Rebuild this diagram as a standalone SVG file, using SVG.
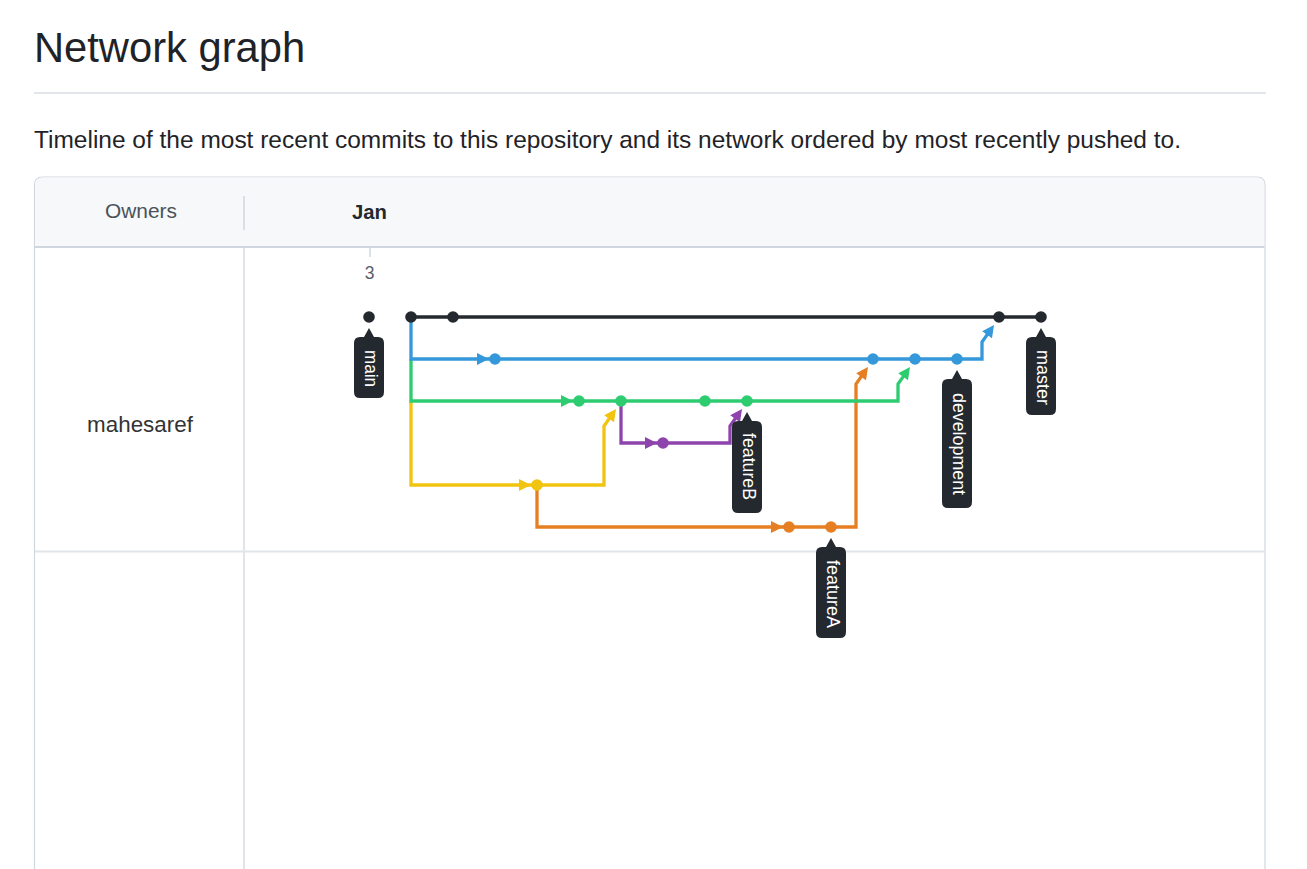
<svg xmlns="http://www.w3.org/2000/svg" xmlns:xlink="http://www.w3.org/1999/xlink" width="1307" height="869" viewBox="0 0 1307 869">
<style>
  .sans{font-family:"Liberation Sans",Arial,sans-serif}
  .ln{fill:none;stroke-width:3.3;stroke-linejoin:miter;stroke-linecap:butt}
  .k{stroke:#24292f}.b{stroke:#3498db}.g{stroke:#2ecc71}.p{stroke:#8e44ad}.y{stroke:#f1c40f}.o{stroke:#e67e22}
  .fk{fill:#24292f}.fb{fill:#3498db}.fg{fill:#2ecc71}.fp{fill:#8e44ad}.fy{fill:#f1c40f}.fo{fill:#e67e22}
  .tag{fill:#24292f}
  .tagt{fill:#ffffff;font-family:"Liberation Sans",Arial,sans-serif;font-size:17.5px}
</style>
<defs>
  <path id="ah" d="M0,0 L-12,-6 L-12,6 Z"/>
  <circle id="dot" r="5.8"/>
</defs>
<rect width="1307" height="869" fill="#ffffff"/>

<g id="header">
  <text class="sans" x="34" y="62" font-size="41.7" fill="#1f2328">Network graph</text>
  <line x1="34" y1="93" x2="1266" y2="93" stroke="#d8dee4" stroke-width="1.5"/>
  <text class="sans" x="34" y="148" font-size="24.4" fill="#1f2328" textLength="1147" lengthAdjust="spacingAndGlyphs">Timeline of the most recent commits to this repository and its network ordered by most recently pushed to.</text>
</g>

<g id="table">
  <path d="M34.5,900 V185 Q34.5,177 42.5,177 H1257 Q1265,177 1265,185 V900" fill="#ffffff" stroke="#d0d7de" stroke-width="1.2"/>
  <path d="M35.1,247 V185.5 Q35.1,177.6 43,177.6 H1256.5 Q1264.4,177.6 1264.4,185.5 V247 Z" fill="#f6f8fa"/>
  <line x1="35" y1="247" x2="1264.5" y2="247" stroke="#d0d7de" stroke-width="2"/>
  <line x1="244" y1="196" x2="244" y2="230" stroke="#d0d7de" stroke-width="1.5"/>
  <line x1="244" y1="248" x2="244" y2="869" stroke="#e1e4e8" stroke-width="2"/>
  <line x1="35" y1="551.5" x2="1264.5" y2="551.5" stroke="#e1e4e8" stroke-width="2"/>
  <line x1="370" y1="248" x2="370" y2="257" stroke="#d0d7de" stroke-width="1.5"/>
  <text class="sans" x="141" y="218" font-size="20.9" fill="#4b5259" text-anchor="middle">Owners</text>
  <text class="sans" x="369.5" y="219" font-size="20.3" font-weight="bold" fill="#24292f" text-anchor="middle">Jan</text>
  <text class="sans" x="140" y="432" font-size="22.4" fill="#333333" text-anchor="middle">mahesaref</text>
  <text class="sans" x="369.5" y="279" font-size="17.5" fill="#57606a" text-anchor="middle">3</text>
</g>

<g id="connectors">
  <path class="ln y" d="M411,401 V485 H604 V426 L613.1,413.1"/>
  <path class="ln o" d="M537,485 V527 H856 V384 L865.1,371.1"/>
  <path class="ln p" d="M621,401 V443 H730 V426 L739.1,413.1"/>
  <path class="ln g" d="M411,359 V401 H898 V384 L907.1,371.1"/>
  <path class="ln b" d="M411,317 V359 H982 V342 L991.1,329.1"/>
  <path class="ln k" d="M411,317 H1041"/>
  <use href="#ah" class="fb" transform="translate(489,359)"/>
  <use href="#ah" class="fg" transform="translate(573,401)"/>
  <use href="#ah" class="fp" transform="translate(657,443)"/>
  <use href="#ah" class="fy" transform="translate(531,485)"/>
  <use href="#ah" class="fo" transform="translate(783,527)"/>
  <use href="#ah" class="fy" transform="translate(616,409) rotate(-54.8)"/>
  <use href="#ah" class="fp" transform="translate(742,409) rotate(-54.8)"/>
  <use href="#ah" class="fo" transform="translate(868,367) rotate(-54.8)"/>
  <use href="#ah" class="fg" transform="translate(910,367) rotate(-54.8)"/>
  <use href="#ah" class="fb" transform="translate(994,325) rotate(-54.8)"/>
</g>

<g id="commits">
  <use href="#dot" class="fk" x="369" y="317"/>
  <use href="#dot" class="fk" x="411" y="317"/>
  <use href="#dot" class="fk" x="453" y="317"/>
  <use href="#dot" class="fk" x="999" y="317"/>
  <use href="#dot" class="fk" x="1041" y="317"/>
  <use href="#dot" class="fb" x="495" y="359"/>
  <use href="#dot" class="fb" x="873" y="359"/>
  <use href="#dot" class="fb" x="915" y="359"/>
  <use href="#dot" class="fb" x="957" y="359"/>
  <use href="#dot" class="fg" x="579" y="401"/>
  <use href="#dot" class="fg" x="621" y="401"/>
  <use href="#dot" class="fg" x="705" y="401"/>
  <use href="#dot" class="fg" x="747" y="401"/>
  <use href="#dot" class="fp" x="663" y="443"/>
  <use href="#dot" class="fy" x="537" y="485"/>
  <use href="#dot" class="fo" x="789" y="527"/>
  <use href="#dot" class="fo" x="831" y="527"/>
</g>

<g id="label-main">
  <path class="tag" d="M369,328 L374,337 H378 Q384,337 384,343 V392 Q384,398 378,398 H360 Q354,398 354,392 V343 Q354,337 360,337 H364 Z"/>
  <text class="tagt" transform="translate(364.5,350) rotate(90)" textLength="37" lengthAdjust="spacingAndGlyphs">main</text>
</g>
<g id="label-master">
  <path class="tag" d="M1041,328 L1046,337 H1050 Q1056,337 1056,343 V409 Q1056,415 1050,415 H1032 Q1026,415 1026,409 V343 Q1026,337 1032,337 H1036 Z"/>
  <text class="tagt" transform="translate(1036.5,350) rotate(90)" textLength="55" lengthAdjust="spacingAndGlyphs">master</text>
</g>
<g id="label-development">
  <path class="tag" d="M957,370 L962,379 H966 Q972,379 972,385 V502 Q972,508 966,508 H948 Q942,508 942,502 V385 Q942,379 948,379 H952 Z"/>
  <text class="tagt" transform="translate(952.5,393) rotate(90)" textLength="102" lengthAdjust="spacingAndGlyphs">development</text>
</g>
<g id="label-featureB">
  <path class="tag" d="M747,412 L752,421 H756 Q762,421 762,427 V507 Q762,513 756,513 H738 Q732,513 732,507 V427 Q732,421 738,421 H742 Z"/>
  <text class="tagt" transform="translate(742.5,433) rotate(90)" textLength="67" lengthAdjust="spacingAndGlyphs">featureB</text>
</g>
<g id="label-featureA">
  <path class="tag" d="M831,538 L836,547 H840 Q846,547 846,553 V632 Q846,638 840,638 H822 Q816,638 816,632 V553 Q816,547 822,547 H826 Z"/>
  <text class="tagt" transform="translate(826.5,560) rotate(90)" textLength="68" lengthAdjust="spacingAndGlyphs">featureA</text>
</g>
</svg>
